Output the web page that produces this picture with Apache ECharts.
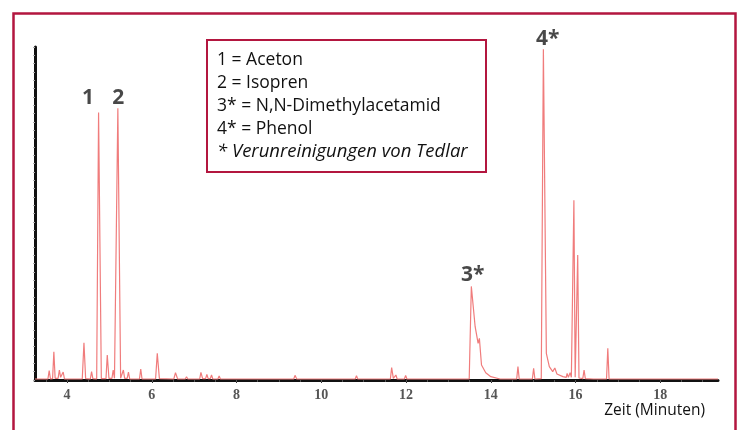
<!DOCTYPE html>
<html>
<head>
<meta charset="utf-8">
<script src="https://cdn.jsdelivr.net/npm/echarts@6/dist/echarts.min.js"></script>
<style>
html,body{margin:0;padding:0;background:#fff;}
#chart{width:738px;height:430px;}
</style>
</head>
<body>
<div id="chart"></div>
<script>
// Retention time (minutes) and detector signal (relative, 0-100)
var times = [
  3.245, 3.50, 3.55, 3.58, 3.61, 3.66, 3.69, 3.72, 3.79, 3.82, 3.85, 3.89, 3.91, 3.94, 4.36, 4.40, 4.44,
  4.55, 4.58, 4.61, 4.70, 4.745, 4.765, 4.81, 4.92, 4.95, 4.99, 5.06, 5.09, 5.12, 5.16, 5.20, 5.22, 5.265,
  5.30, 5.33, 5.36, 5.42, 5.45, 5.48, 5.71, 5.74, 5.77, 6.09, 6.13, 6.18, 6.52, 6.56, 6.61,
  6.79, 6.82, 6.85, 7.13, 7.16, 7.20, 7.27, 7.30, 7.33, 7.38, 7.41, 7.44, 7.56, 7.59, 7.62,
  8.22, 8.25, 8.28, 8.95, 8.98, 9.01, 9.35, 9.38, 9.42, 9.94, 9.97, 10.00, 10.29, 10.32, 10.35,
  10.80, 10.83, 10.86, 11.63, 11.66, 11.70, 11.73, 11.76, 11.79, 11.96, 11.99, 12.02,
  12.89, 12.92, 12.95, 13.49, 13.54, 13.56, 13.63, 13.70, 13.73, 13.78, 13.88, 14.00, 14.22,
  14.61, 14.64, 14.67, 14.98, 15.01, 15.04, 15.19, 15.24, 15.26, 15.31, 15.38, 15.46, 15.51, 15.56, 15.70,
  15.78, 15.80, 15.83, 15.85, 15.87, 15.90, 15.935, 15.96, 15.99, 16.02, 16.05, 16.08,
  16.17, 16.20, 16.23, 16.42, 16.45, 16.48, 16.73, 16.76, 16.79, 17.67, 17.70, 17.73,
  18.38, 18.41, 18.44, 19.36
];
var signal = [
  0.3, 0.3, 0.3, 2.8, 0.3, 0.4, 8.5, 0.5, 0.5, 3.0, 0.8, 0.6, 2.4, 0.3, 0.3, 11.2, 0.4,
  0.3, 2.5, 0.4, 0.3, 80.3, 80.3, 0.4, 0.4, 7.5, 0.5, 0.5, 3.0, 0.5, 0.4, 81.6, 81.6, 0.5,
  0.5, 3.0, 0.5, 0.5, 2.4, 0.3, 0.3, 3.3, 0.3, 0.3, 8.0, 0.4, 0.3, 2.2, 0.3,
  0.3, 1.0, 0.3, 0.3, 2.3, 0.4, 0.4, 1.7, 0.4, 0.4, 1.5, 0.3, 0.3, 1.2, 0.3,
  0.3, 0.6, 0.3, 0.3, 0.6, 0.3, 0.3, 1.4, 0.3, 0.3, 0.9, 0.3, 0.3, 0.6, 0.3,
  0.3, 1.3, 0.3, 0.3, 3.7, 0.5, 0.5, 1.5, 0.3, 0.3, 1.4, 0.3,
  0.3, 0.6, 0.3, 0.3, 28.1, 28.1, 16.0, 11.0, 12.5, 4.5, 2.2, 1.0, 0.3,
  0.3, 4.0, 0.3, 0.3, 3.5, 0.3, 0.4, 99.3, 99.3, 8.0, 4.0, 2.5, 3.6, 1.8, 1.0,
  0.8, 2.0, 0.8, 0.8, 2.2, 0.8, 0.8, 54.0, 0.8, 0.8, 37.5, 0.6,
  0.4, 3.0, 0.4, 0.3, 0.6, 0.3, 0.3, 9.5, 0.3, 0.3, 0.9, 0.3,
  0.3, 0.5, 0.3, 0.3
];
// Peak annotations
var peakTimes = [4.755, 5.21, 13.55, 15.25];
var peakValues = [80.3, 81.6, 28.1, 99.3];
var peakTexts = ['1', '2', '3*', '4*'];
var xTickValues = [4, 6, 8, 10, 12, 14, 16, 18];
var legendLines = ['1 = Aceton', '2 = Isopren', '3* = N,N-Dimethylacetamid', '4* = Phenol', '* Verunreinigungen von Tedlar'];
var axisTitle = 'Zeit (Minuten)';

var lineData = times.map(function (t, i) { return [t, signal[i]]; });
var labelOffsets = [[-11, -15], [0, -10], [1, -11], [4, -10]];
var labelData = peakTimes.map(function (t, i) {
  return { value: [t, peakValues[i], peakTexts[i]], label: { offset: labelOffsets[i] } };
});

var minorTicks = [];
for (var v = 3.5; v <= 19.0; v += 0.5) minorTicks.push(v);

var crimson = '#b3163f';
var legendGraphics = [{
  type: 'rect', left: 206, top: 39,
  shape: { width: 279, height: 132 },
  style: { fill: '#fff', stroke: crimson, lineWidth: 2 }
}];
legendLines.forEach(function (s, i) {
  legendGraphics.push({
    type: 'text',
    style: {
      x: 217, y: 60 + i * 23, text: s, fill: '#111',
      align: 'left', verticalAlign: 'middle',
      font: (i === 4 ? 'italic 18.5px' : '17.5px') + ' "Open Sans", sans-serif'
    }
  });
});

var chart = echarts.init(document.getElementById('chart'), null, { renderer: 'canvas' });
chart.setOption({
  backgroundColor: '#fff',
  animation: false,
  grid: { left: 35, right: 20, top: 47, bottom: 50, containLabel: false },
  xAxis: [{
    type: 'value', min: 3.245, max: 19.36,
    axisLine: { lineStyle: { color: '#111', width: 3 } },
    axisTick: { show: true, length: 3, customValues: xTickValues, lineStyle: { color: '#333', width: 1 } },
    axisLabel: {
      customValues: xTickValues, margin: 8,
      fontFamily: '"Liberation Serif", serif', fontSize: 14, color: '#555', fontWeight: 'bold'
    },
    splitLine: { show: false }
  }, {
    type: 'value', min: 3.245, max: 19.36, position: 'bottom',
    axisLine: { show: false },
    axisTick: { show: true, length: 2, customValues: minorTicks, lineStyle: { color: '#555', width: 1 } },
    axisLabel: { show: false },
    splitLine: { show: false }
  }],
  yAxis: {
    type: 'value', min: 0, max: 100, interval: 2.5,
    axisLine: { show: true, lineStyle: { color: '#111', width: 3 } },
    axisTick: { show: true, length: 2, lineStyle: { color: '#aaa', width: 1 } },
    axisLabel: { show: false },
    splitLine: { show: false }
  },
  series: [{
    type: 'line', data: lineData, symbol: 'none', smooth: false,
    lineStyle: { color: '#f07c7c', width: 1.2 },
    z: 3
  }, {
    type: 'scatter', data: labelData, symbolSize: 0,
    label: {
      show: true, position: 'inside',
      formatter: function (p) { return p.value[2]; },
      fontFamily: '"Open Sans", sans-serif', fontSize: 21, fontWeight: 'bold', color: '#1a1a1a'
    },
    z: 4
  }],
  graphic: [{
    type: 'rect', left: 11, top: 11,
    shape: { width: 722, height: 440 },
    style: { fill: 'none', stroke: crimson, lineWidth: 2.5 },
    z: 10
  }, {
    type: 'text',
    style: { x: 705, y: 411, align: 'right', verticalAlign: 'middle', text: axisTitle, fill: '#111', font: '15.5px "Open Sans", sans-serif' }
  }].concat(legendGraphics)
});
</script>
</body>
</html>
